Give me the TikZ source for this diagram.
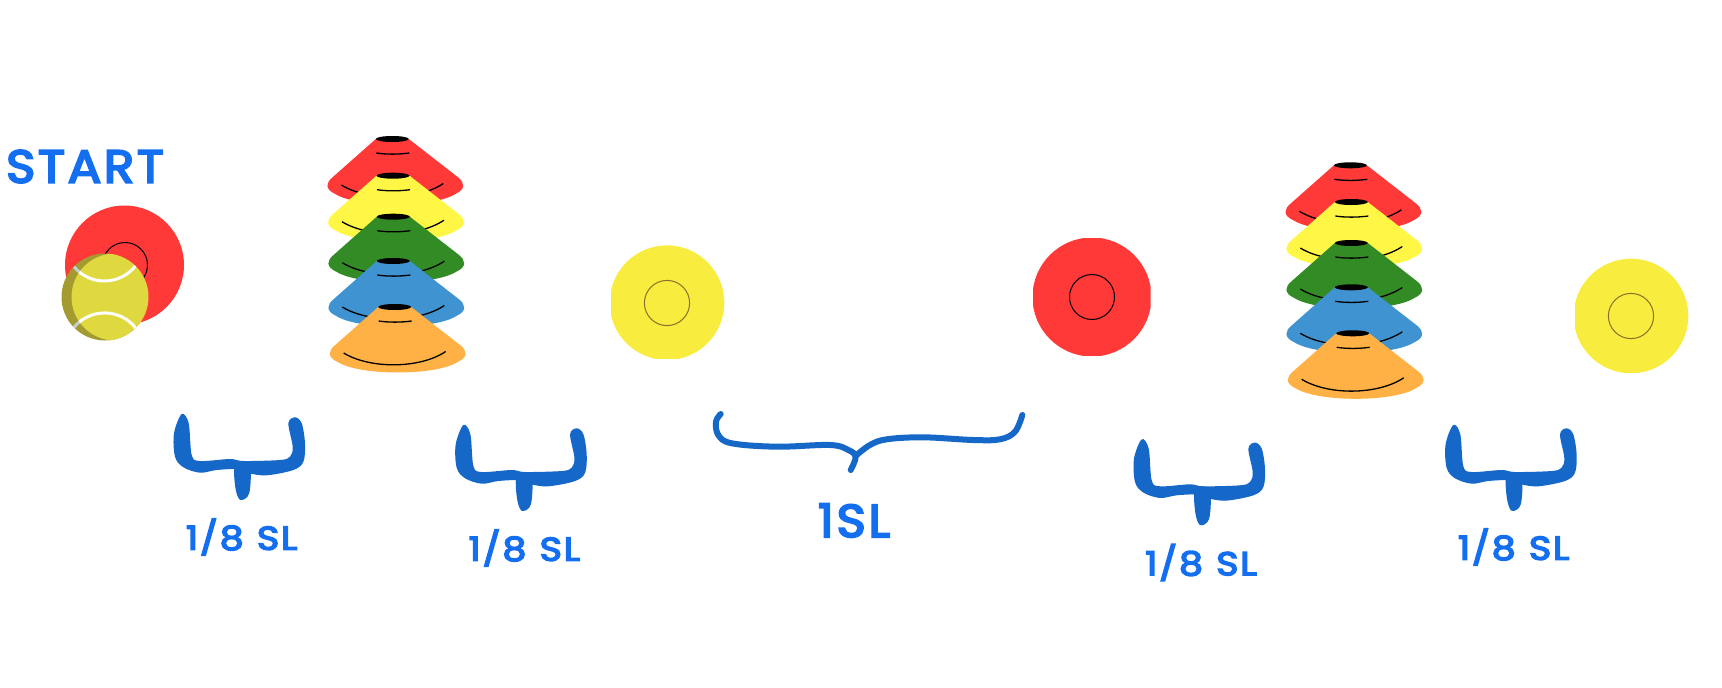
\documentclass[tikz,border=0pt]{standalone}
\usepackage{fontspec}
\newfontfamily\labelFont[FakeBold=4.5, FakeStretch=1.08, LetterSpace=6]{Poppins}
\newfontfamily\labelFontWide[FakeBold=4.5, FakeStretch=1.16, LetterSpace=5, WordSpace=1.1]{Poppins}
\usepackage{tikz}
\definecolor{textBlue}{HTML}{146FF0}
\definecolor{braceBlue}{HTML}{1567C8}
\definecolor{discRed}{HTML}{FF3838}
\definecolor{discYellow}{HTML}{F8EC3E}
\definecolor{ringBrown}{HTML}{8F6C2B}
\definecolor{coneYellow}{HTML}{FFF645}
\definecolor{coneGreen}{HTML}{338B25}
\definecolor{coneBlue}{HTML}{3F93D0}
\definecolor{coneOrange}{HTML}{FFB145}
\definecolor{ballDark}{HTML}{A39B30}
\definecolor{ballLight}{HTML}{DFD93F}
\definecolor{seamGrey}{HTML}{C5D0D0}
\tikzset{
  bigLabel/.style={text=textBlue, inner sep=0pt, font=\labelFont\fontsize{46}{50}\selectfont},
  smallLabel/.style={text=textBlue, inner sep=0pt, font=\labelFontWide\fontsize{33}{36}\selectfont},
  coneLine/.style={black, line width=1.3pt},
  seam/.style={line width=3pt}
}
\begin{document}
\begin{tikzpicture}[x=1pt, y=-1pt]
    \useasboundingbox (0,0) rectangle (1722,688);

    % flat discs, with the centre ring
    \begin{scope}
        \clip (64,200) rectangle (190,330);
        \fill[discRed] (124.5,265) circle[radius=59.5];
    \end{scope}
    \draw[black, line width=1pt] (125,265) circle[radius=22.5];
    \begin{scope}
        \clip (611,240) rectangle (730,358.7);
        \fill[discYellow] (667,302.7) circle[radius=57.3];
    \end{scope}
    \draw[ringBrown, line width=1pt] (667,303) circle[radius=22.6];
    \begin{scope}
        \clip (1033,238) rectangle (1150.5,355.5);
        \fill[discRed] (1092,297) circle[radius=59.5];
    \end{scope}
    \draw[black, line width=1pt] (1092,297) circle[radius=22.5];
    \begin{scope}
        \clip (1575,250) rectangle (1695,372);
        \fill[discYellow] (1631,316) circle[radius=57.3];
    \end{scope}
    \draw[ringBrown, line width=1pt] (1631,316) circle[radius=22.6];

    % tennis ball over the first disc
    \begin{scope}
        \clip (105,297) circle[radius=43.5];
        \fill[ballDark] (105,297) circle[radius=43.5];
        \draw[seamGrey, seam] (74,266.7) .. controls (90,286) and (120,286) .. (136,265.3);
        \draw[seamGrey, seam] (74,327.3) .. controls (90,308) and (120,308) .. (136,328.3);
        \clip (115,297) circle[radius=43.5];
        \fill[ballLight] (115,297) circle[radius=43.5];
        \draw[white, seam] (74,266.7) .. controls (90,286) and (120,286) .. (136,265.3);
        \draw[white, seam] (74,327.3) .. controls (90,308) and (120,308) .. (136,328.3);
    \end{scope}

    % one cone, its top centre at (0,0)
    \def\drawCone#1#2#3{
        \begin{scope}[shift={(#1,#2)}]
            \fill[#3] (-16.5,0) -- (-60,38.5) .. controls (-66,43.5) and (-68,50) .. (-57,55)
                .. controls (-35,69) and (41,69) .. (63,55)
                .. controls (74,50) and (72,43.5) .. (66,38.5) -- (16.5,0) -- cycle;
            \fill[black] (0,0) ellipse (16.5 and 3);
            \draw[coneLine] (-16,14) .. controls (-6,15.5) and (6,15.5) .. (17,14);
            \draw[coneLine] (-51,46) .. controls (-25,62) and (25,62) .. (51,44.5);
        \end{scope}
    }

    % cone stacks, drawn from the top down
    \foreach \coneX/\coneY/\coneCol in {392.3/139/discRed, 393/175.7/coneYellow, 393.3/216.7/coneGreen, 393.3/261/coneBlue, 394.7/307/coneOrange,
        1350.4/165.3/discRed, 1351.3/202/coneYellow, 1351.3/243/coneGreen, 1351.3/287.3/coneBlue, 1352.7/333.3/coneOrange}
        {\drawCone{\coneX}{\coneY}{\coneCol}}

    % small braces, tip of the left arm at (0,0)
    \foreach \braceX/\braceY in {181.7/414, 463.4/425, 1141.7/439.3, 1453.3/425} {
        \fill[braceBlue, shift={(\braceX,\braceY)}] plot[smooth cycle, tension=0.55] coordinates {
            (0,0) (-7.7,19.3) (-6.7,42.7) (1.7,53.3) (18.3,58.7) (35,56) (54.3,55.3)
            (67.3,59.3) (85,61.3) (111.7,56) (121.7,47.7)
            (123.3,29.3) (120,9.3) (113.3,3.3) (106.7,9.3) (111,32.7) (108.3,42.7) (98.3,46)
            (61.7,47) (48.3,45) (18.3,47) (10,41) (7,9.3)};
        \fill[braceBlue, shift={(\braceX,\braceY)}] plot[smooth cycle, tension=0.55] coordinates {
            (53.5,50) (53.5,72.7) (58.3,85.8) (67.5,79.3) (68,50)};
    }

    % long brace
    \draw[braceBlue, line width=6pt, line cap=round] plot[smooth, tension=0.6] coordinates {
        (720.7,414) (716,421.7) (718.3,435) (731.7,443.3) (776.7,446.7) (830,445) (848.3,450) (855.7,456.7) (850.7,470)};
    \draw[braceBlue, line width=6pt, line cap=round] plot[smooth, tension=0.6] coordinates {
        (856.7,455) (870,445) (886.7,439.3) (923.3,437.3) (973.3,440) (1000,439.3) (1015,431.7) (1022.3,415)};

    % labels
    \node[bigLabel] (startLabel) at (85,166.5) {START};
    \node[bigLabel] (oneLabel) at (854,520.5) {1SL};
    \node[smallLabel] (labelA) at (241.7,537) {1/8 SL};
    \node[smallLabel] (labelB) at (524.4,548) {1/8 SL};
    \node[smallLabel] (labelC) at (1201,562.5) {1/8 SL};
    \node[smallLabel] (labelD) at (1513.7,547) {1/8 SL};
\end{tikzpicture}
\end{document}
